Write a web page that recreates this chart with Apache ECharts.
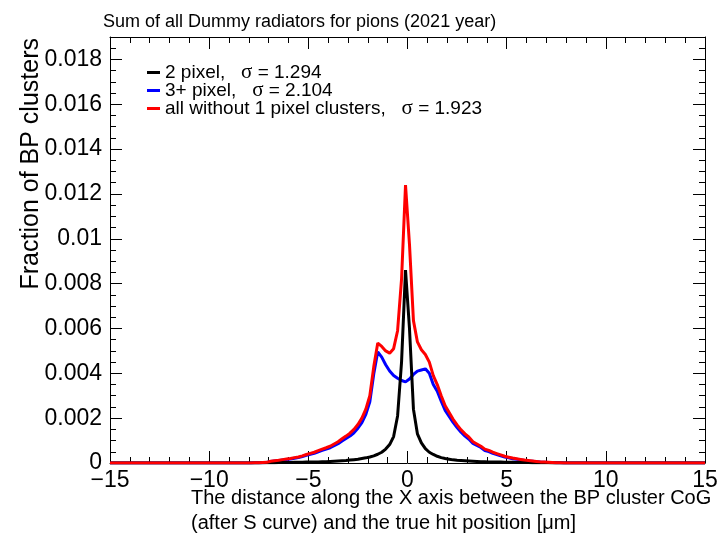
<!DOCTYPE html>
<html>
<head>
<meta charset="utf-8">
<script src="https://cdn.jsdelivr.net/npm/echarts@6/dist/echarts.min.js"></script>
<style>html,body{margin:0;padding:0;background:#fff;}#c{width:722px;height:536px;}</style>
</head>
<body>
<div id="c"></div>
<script>
// Histogram bins: 80 bins of width 0.2 from -8 to 8 (empty outside)
const binStart = -8;
const binWidth = 0.2;
const xRange = [-15, 15];

const seriesNames = ['2 pixel', '3+ pixel', 'all without 1 pixel clusters'];
const sigmas = ['1.294', '2.104', '1.923'];

const twoPixel = [
  0, 0, 0, 0.00001, 0.00001, 0.00001, 0.00001, 0.00002, 0.00002, 0.00002,
  0.00002, 0.00003, 0.00003, 0.00003, 0.00004, 0.00004, 0.00005, 0.00005, 0.00006, 0.00006,
  0.00007, 0.00008, 0.00009, 0.00010, 0.00011, 0.00013, 0.00015, 0.00017, 0.00020, 0.00023,
  0.00027, 0.00032, 0.00039, 0.00048, 0.00062, 0.00082, 0.00118, 0.00210, 0.00450, 0.00860,
  0.00600, 0.00240, 0.00130, 0.00090, 0.00064, 0.00048, 0.00038, 0.00030, 0.00024, 0.00020,
  0.00017, 0.00014, 0.00012, 0.00011, 0.00010, 0.00009, 0.00008, 0.00007, 0.00006, 0.00006,
  0.00005, 0.00005, 0.00004, 0.00004, 0.00003, 0.00003, 0.00003, 0.00002, 0.00002, 0.00002,
  0.00002, 0.00001, 0.00001, 0.00001, 0.00001, 0.00001, 0, 0, 0, 0
];

const threePlusPixel = [
  0, 0.00001, 0.00001, 0.00001, 0.00002, 0.00007, 0.00009, 0.00010, 0.00013, 0.00016,
  0.00018, 0.00021, 0.00024, 0.00029, 0.00034, 0.00039, 0.00043, 0.00050, 0.00056, 0.00062,
  0.00068, 0.00077, 0.00086, 0.00098, 0.00109, 0.00120, 0.00135, 0.00155, 0.00180, 0.00217,
  0.00273, 0.00398, 0.00496, 0.00472, 0.00438, 0.00410, 0.00390, 0.00378, 0.00368, 0.00362,
  0.00375, 0.00395, 0.00410, 0.00415, 0.00420, 0.00400, 0.00350, 0.00320, 0.00276, 0.00235,
  0.00208, 0.00181, 0.00158, 0.00137, 0.00120, 0.00106, 0.00087, 0.00078, 0.00069, 0.00056,
  0.00051, 0.00043, 0.00038, 0.00032, 0.00027, 0.00023, 0.00019, 0.00017, 0.00014, 0.00011,
  0.00009, 0.00008, 0.00006, 0.00004, 0.00003, 0.00002, 0.00002, 0.00001, 0.00001, 0
];

const allNoSingle = [
  0, 0.00001, 0.00001, 0.00002, 0.00003, 0.00008, 0.00010, 0.00012, 0.00015, 0.00018,
  0.00020, 0.00024, 0.00027, 0.00032, 0.00038, 0.00043, 0.00048, 0.00055, 0.00062, 0.00068,
  0.00075, 0.00085, 0.00095, 0.00108, 0.00120, 0.00133, 0.00150, 0.00172, 0.00200, 0.00240,
  0.00300, 0.00430, 0.00535, 0.00520, 0.00500, 0.00490, 0.00510, 0.00590, 0.00820, 0.01240,
  0.00975, 0.00635, 0.00540, 0.00505, 0.00484, 0.00450, 0.00390, 0.00350, 0.00300, 0.00255,
  0.00225, 0.00195, 0.00170, 0.00148, 0.00130, 0.00115, 0.00095, 0.00085, 0.00075, 0.00062,
  0.00056, 0.00048, 0.00042, 0.00036, 0.00030, 0.00026, 0.00022, 0.00019, 0.00016, 0.00013,
  0.00011, 0.00009, 0.00007, 0.00005, 0.00004, 0.00003, 0.00002, 0.00001, 0.00001, 0
];

const yMax = 0.019;
const yInterval = 0.002;
const xInterval = 5;

const colors = ['#000000', '#0000ff', '#ff0000'];
const FONT = '"Liberation Sans", Arial, Helvetica, sans-serif';

// histogram contents drawn through bin centres; empty range outside the filled bins
function histPoints(vals) {
  const pts = [[xRange[0], 0]];
  for (let i = 0; i < vals.length; i++) {
    pts.push([+(binStart + (i + 0.5) * binWidth).toFixed(4), vals[i]]);
  }
  pts.push([xRange[1], 0]);
  return pts;
}

const chart = echarts.init(document.getElementById('c'), null, {renderer: 'canvas'});

const xFmt = v => (v < 0 ? '\u2212' + Math.abs(v) : String(v));
const yFmt = v => (v > 0.0185 ? '' : (v === 0 ? '0' : String(+v.toFixed(4))));

const baseAxisLine = {show: true, onZero: false, lineStyle: {color: '#000', width: 1}};

const option = {
  animation: false,
  backgroundColor: '#fff',
  grid: {left: 110, right: 17, top: 37, bottom: 73, containLabel: false},
  title: {
    text: 'Sum of all Dummy radiators for pions (2021 year)',
    left: 98, top: 8,
    textStyle: {fontFamily: FONT, fontSize: 18, fontWeight: 'normal', color: '#000'}
  },
  legend: {
    orient: 'vertical',
    left: 142, top: 57,
    itemWidth: 13, itemHeight: 3, itemGap: -3,
    icon: 'rect',
    data: seriesNames,
    textStyle: {
      fontFamily: FONT, fontSize: 19, color: '#000', lineHeight: 18,
      rich: {s: {fontFamily: '"Liberation Serif", "DejaVu Serif", serif', fontSize: 21, color: '#000', lineHeight: 18}}
    },
    formatter: name => {
      const i = seriesNames.indexOf(name);
      return name + ',   {s|\u03c3} = ' + sigmas[i];
    }
  },
  xAxis: [{
    type: 'value', min: xRange[0], max: xRange[1], interval: xInterval,
    axisLine: baseAxisLine,
    axisTick: {show: true, inside: true, length: 12, lineStyle: {color: '#000'}},
    minorTick: {show: true, splitNumber: 5, length: 6, lineStyle: {color: '#000'}},
    splitLine: {show: false},
    axisLabel: {fontFamily: FONT, fontSize: 23, color: '#000', margin: 6, formatter: xFmt}
  }, {
    type: 'value', position: 'top', min: xRange[0], max: xRange[1], interval: xInterval,
    axisLine: baseAxisLine,
    axisTick: {show: true, inside: true, length: 12, lineStyle: {color: '#000'}},
    minorTick: {show: true, splitNumber: 5, length: 6, lineStyle: {color: '#000'}},
    splitLine: {show: false},
    axisLabel: {show: false}
  }],
  yAxis: [{
    type: 'value', min: 0, max: yMax, interval: yInterval,
    axisLine: baseAxisLine,
    axisTick: {show: true, inside: true, length: 12, lineStyle: {color: '#000'}},
    minorTick: {show: true, splitNumber: 4, length: 6, lineStyle: {color: '#000'}},
    splitLine: {show: false},
    axisLabel: {fontFamily: FONT, fontSize: 23, color: '#000', margin: 8, formatter: yFmt}
  }, {
    type: 'value', position: 'right', min: 0, max: yMax, interval: yInterval,
    axisLine: baseAxisLine,
    axisTick: {show: true, inside: true, length: 12, lineStyle: {color: '#000'}},
    minorTick: {show: true, splitNumber: 4, length: 6, lineStyle: {color: '#000'}},
    splitLine: {show: false},
    axisLabel: {show: false}
  }],
  series: [
    {name: seriesNames[1], type: 'line', showSymbol: false, symbol: 'none', z: 2,
     color: colors[1], lineStyle: {color: colors[1], width: 3}, data: histPoints(threePlusPixel)},
    {name: seriesNames[0], type: 'line', showSymbol: false, symbol: 'none', z: 3,
     color: colors[0], lineStyle: {color: colors[0], width: 3}, data: histPoints(twoPixel)},
    {name: seriesNames[2], type: 'line', showSymbol: false, symbol: 'none', z: 4,
     color: colors[2], lineStyle: {color: colors[2], width: 3}, data: histPoints(allNoSingle)}
  ],
  graphic: [
    {type: 'text', x: 31, y: 38, rotation: Math.PI / 2,
     style: {text: 'Fraction of BP clusters', fontFamily: FONT, fontSize: 25, fill: '#000',
             align: 'right', verticalAlign: 'middle'}},
    {type: 'text', x: 191, y: 486,
     style: {text: 'The distance along the X axis between the BP cluster CoG\n(after S curve) and the true hit position [\u03bcm]',
             fontFamily: FONT, fontSize: 20, lineHeight: 25, fill: '#000', align: 'left', verticalAlign: 'top'}}
  ]
};
chart.setOption(option);
</script>
</body>
</html>
